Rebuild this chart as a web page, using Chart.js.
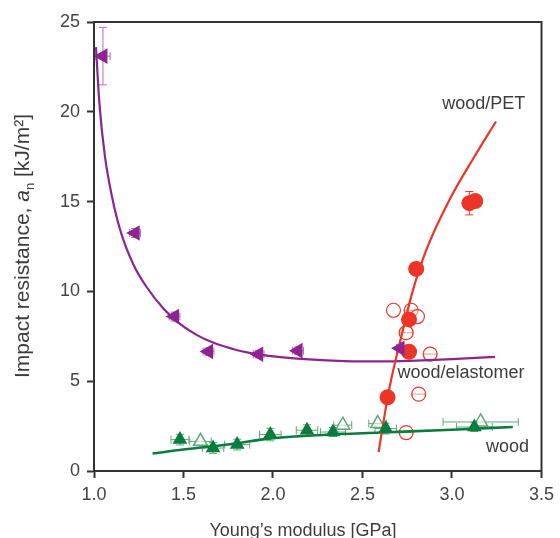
<!DOCTYPE html>
<html>
<head>
<meta charset="utf-8">
<script src="https://cdn.jsdelivr.net/npm/chart.js@4.4.1/dist/chart.umd.min.js"></script>
<style>
  html, body { margin: 0; padding: 0; background: #fff; }
</style>
</head>
<body>
<canvas id="chart" width="560" height="538"></canvas>
<script>
// axis ticks
const xTicks = [1.0, 1.5, 2.0, 2.5, 3.0, 3.5];
const yTicks = [0, 5, 10, 15, 20, 25];

// wood/elastomer measurements
const elastomerX = [1.05, 1.23, 1.45, 1.64, 1.92, 2.14, 2.71];
const elastomerY = [23.1, 13.25, 8.6, 6.65, 6.5, 6.7, 6.83];
const elastomerErrX = [0.04, 0.03, 0.03, 0.03, 0.03, 0.03, 0.02];
const elastomerErrY = [1.6, 0.25, 0.25, 0.2, 0.2, 0.2, 0.2];
// wood/elastomer fit
const elastomerFitX = [1.011, 1.03, 1.06, 1.10, 1.15, 1.22, 1.29, 1.39, 1.46, 1.573, 1.665, 1.796, 1.926, 2.04, 2.2, 2.4, 2.6, 2.8, 3.0, 3.24];
const elastomerFitY = [23.6, 20.5, 17.6, 15.3, 13.3, 11.5, 10.3, 9.02, 8.35, 7.58, 7.15, 6.74, 6.48, 6.34, 6.21, 6.12, 6.1, 6.15, 6.23, 6.35];

// wood/PET measurements (filled and open)
const petX = [2.64, 2.76, 2.76, 2.80, 3.097, 3.13];
const petY = [4.1, 6.64, 8.44, 11.25, 14.91, 15.03];
const petErrY = [0, 0, 0, 0, 0.65, 0];
const petOpenX = [2.673, 2.772, 2.807, 2.744, 2.878, 2.814, 2.744];
const petOpenY = [8.95, 8.95, 8.6, 7.7, 6.51, 4.28, 2.14];
const petOpenErrX = [0, 0.035, 0, 0.035, 0.035, 0.035, 0.035];
// wood/PET fit
const petFitX = [2.59, 2.62, 2.65, 2.716, 2.78, 2.856, 2.986, 3.125, 3.246];
const petFitY = [1.06, 2.9, 4.6, 7.45, 10.0, 12.3, 15.1, 17.5, 19.46];

// wood measurements (filled and open)
const woodX = [1.48, 1.665, 1.80, 1.985, 2.19, 2.335, 2.63, 3.125];
const woodY = [1.75, 1.28, 1.47, 2.03, 2.27, 2.17, 2.36, 2.45];
const woodErrX = [0.05, 0.06, 0.07, 0.06, 0.06, 0.07, 0.06, 0.1];
const woodErrY = [0.3, 0.3, 0.3, 0.35, 0.3, 0.25, 0.3, 0.25];
const woodOpenX = [1.595, 2.39, 2.585, 3.16];
const woodOpenY = [1.65, 2.55, 2.64, 2.73];
const woodOpenErrX = [0.06, 0.05, 0.05, 0.21];
// wood fit
const woodFitX = [1.327, 1.5, 1.76, 2.0, 2.3, 2.6, 3.0, 3.34];
const woodFitY = [0.97, 1.2, 1.49, 1.83, 2.02, 2.14, 2.3, 2.45];

const PURPLE = '#8e2491';
const RED = '#ec3526';
const GREEN = '#0a7d3e';
const GREEN_LIGHT = '#5ea877';
const FONT = '"Liberation Sans", Arial, sans-serif';
const TEXT = '#3c3c3c';

function pts(xs, ys) {
  return xs.map((x, i) => ({ x: x, y: ys[i] }));
}

// draws error bars stored on each dataset (errX / errY)
const errorBars = {
  id: 'errorBars',
  beforeDatasetsDraw(chart) {
    const ctx = chart.ctx;
    const xs = chart.scales.x, ys = chart.scales.y;
    chart.data.datasets.forEach(ds => {
      if (!ds.errX && !ds.errY) return;
      ctx.save();
      ctx.strokeStyle = ds.errColor || ds.borderColor;
      ctx.lineWidth = 1;
      const cap = ds.errCap || 3;
      ds.data.forEach((p, i) => {
        const px = xs.getPixelForValue(p.x), py = ys.getPixelForValue(p.y);
        const ex = ds.errX ? ds.errX[i] : 0;
        const ey = ds.errY ? ds.errY[i] : 0;
        ctx.beginPath();
        if (ex) {
          const l = xs.getPixelForValue(p.x - ex), r = xs.getPixelForValue(p.x + ex);
          ctx.moveTo(l, py); ctx.lineTo(r, py);
          ctx.moveTo(l, py - cap); ctx.lineTo(l, py + cap);
          ctx.moveTo(r, py - cap); ctx.lineTo(r, py + cap);
        }
        if (ey) {
          const t = ys.getPixelForValue(p.y + ey), b = ys.getPixelForValue(p.y - ey);
          ctx.moveTo(px, t); ctx.lineTo(px, b);
          ctx.moveTo(px - cap, t); ctx.lineTo(px + cap, t);
          ctx.moveTo(px - cap, b); ctx.lineTo(px + cap, b);
        }
        ctx.stroke();
      });
      ctx.restore();
    });
  }
};

// frame, axis titles and series labels
const decorations = {
  id: 'decorations',
  afterDraw(chart) {
    const ctx = chart.ctx;
    const a = chart.chartArea;
    const xs = chart.scales.x, ys = chart.scales.y;
    ctx.save();
    ctx.strokeStyle = '#333';
    ctx.lineWidth = 2;
    ctx.strokeRect(a.left, a.top, a.right - a.left, a.bottom - a.top);

    ctx.fillStyle = TEXT;
    ctx.font = '18px ' + FONT;
    ctx.textBaseline = 'middle';
    ctx.textAlign = 'left';
    [['wood/PET', 2.946, 20.45], ['wood/elastomer', 2.695, 5.45], ['wood', 3.19, 1.32]].forEach(l => {
      ctx.fillText(l[0], xs.getPixelForValue(l[1]), ys.getPixelForValue(l[2]));
    });

    // x title
    ctx.textAlign = 'center';
    ctx.textBaseline = 'alphabetic';
    ctx.fillText('Young\u2019s modulus [GPa]', 303, 536);

    // y title, rotated, with italic a and subscript n
    const parts = [
      { t: 'Impact resistance, ', f: '21px ' + FONT, dy: 0 },
      { t: 'a', f: 'italic 21px ' + FONT, dy: 0 },
      { t: 'n', f: '13px ' + FONT, dy: 5 },
      { t: ' [kJ/m\u00b2]', f: '21px ' + FONT, dy: 0 }
    ];
    let total = 0;
    parts.forEach(p => { ctx.font = p.f; p.w = ctx.measureText(p.t).width; total += p.w; });
    ctx.translate(29, 246);
    ctx.rotate(-Math.PI / 2);
    ctx.textAlign = 'left';
    let x = -total / 2;
    parts.forEach(p => {
      ctx.font = p.f;
      ctx.fillText(p.t, x, p.dy);
      x += p.w;
    });
    ctx.restore();
  }
};

const ctx = document.getElementById('chart').getContext('2d');
new Chart(ctx, {
  type: 'scatter',
  data: {
    datasets: [
      {
        label: 'wood/elastomer',
        data: pts(elastomerX, elastomerY),
        errX: elastomerErrX,
        errY: elastomerErrY,
        errColor: '#b66bb6',
        errCap: 4,
        pointStyle: 'triangle',
        rotation: -90,
        pointRadius: 9,
        backgroundColor: PURPLE,
        borderColor: PURPLE,
        borderWidth: 0
      },
      {
        label: 'wood/PET',
        data: pts(petX, petY),
        errY: petErrY,
        errCap: 4,
        pointStyle: 'circle',
        pointRadius: 8,
        backgroundColor: RED,
        borderColor: RED,
        borderWidth: 0
      },
      {
        label: 'wood',
        data: pts(woodX, woodY),
        errX: woodErrX,
        errY: woodErrY,
        errColor: GREEN_LIGHT,
        errCap: 4,
        pointStyle: 'triangle',
        pointRadius: 8.5,
        backgroundColor: GREEN,
        borderColor: GREEN,
        borderWidth: 0
      },
      {
        label: 'wood/PET fit',
        type: 'line',
        data: pts(petFitX, petFitY),
        borderColor: RED,
        borderWidth: 2.2,
        pointRadius: 0,
        cubicInterpolationMode: 'monotone',
        fill: false
      },
      {
        label: 'wood/elastomer fit',
        type: 'line',
        data: pts(elastomerFitX, elastomerFitY),
        borderColor: PURPLE,
        borderWidth: 2.2,
        pointRadius: 0,
        cubicInterpolationMode: 'monotone',
        fill: false
      },
      {
        label: 'wood fit',
        type: 'line',
        data: pts(woodFitX, woodFitY),
        borderColor: GREEN,
        borderWidth: 2.6,
        pointRadius: 0,
        cubicInterpolationMode: 'monotone',
        fill: false
      },
      {
        label: 'wood/PET open',
        data: pts(petOpenX, petOpenY),
        errX: petOpenErrX,
        errColor: RED,
        errCap: 2.5,
        pointStyle: 'circle',
        pointRadius: 7,
        backgroundColor: 'rgba(255,255,255,0.5)',
        borderColor: RED,
        borderWidth: 1.2
      },
      {
        label: 'wood open',
        data: pts(woodOpenX, woodOpenY),
        errX: woodOpenErrX,
        errColor: GREEN_LIGHT,
        errCap: 4,
        pointStyle: 'triangle',
        pointRadius: 8,
        backgroundColor: 'rgba(255,255,255,0.6)',
        borderColor: GREEN_LIGHT,
        borderWidth: 1.5
      }
    ]
  },
  options: {
    responsive: false,
    animation: false,
    layout: { padding: { top: 22, right: 17, left: 0, bottom: 0 } },
    plugins: {
      legend: { display: false },
      tooltip: { enabled: false }
    },
    scales: {
      x: {
        type: 'linear',
        min: xTicks[0],
        max: xTicks[xTicks.length - 1],
        afterBuildTicks: s => { s.ticks = xTicks.map(v => ({ value: v })); },
        afterFit: s => { s.height = 67; },
        grid: { display: true, drawOnChartArea: false, drawTicks: true, tickLength: 7, tickWidth: 2, tickColor: '#333' },
        border: { display: true, color: '#333', width: 2 },
        ticks: {
          padding: 6,
          color: '#444',
          font: { family: FONT, size: 18 },
          callback: v => v.toFixed(1)
        }
      },
      y: {
        type: 'linear',
        min: yTicks[0],
        max: yTicks[yTicks.length - 1],
        afterBuildTicks: s => { s.ticks = yTicks.map(v => ({ value: v })); },
        afterFit: s => { s.width = 94; },
        grid: { display: true, drawOnChartArea: false, drawTicks: true, tickLength: 7, tickWidth: 2, tickColor: '#333' },
        border: { display: true, color: '#333', width: 2 },
        ticks: {
          padding: 7,
          color: '#444',
          font: { family: FONT, size: 18 },
          callback: v => String(v)
        }
      }
    }
  },
  plugins: [errorBars, decorations]
});
</script>
</body>
</html>
